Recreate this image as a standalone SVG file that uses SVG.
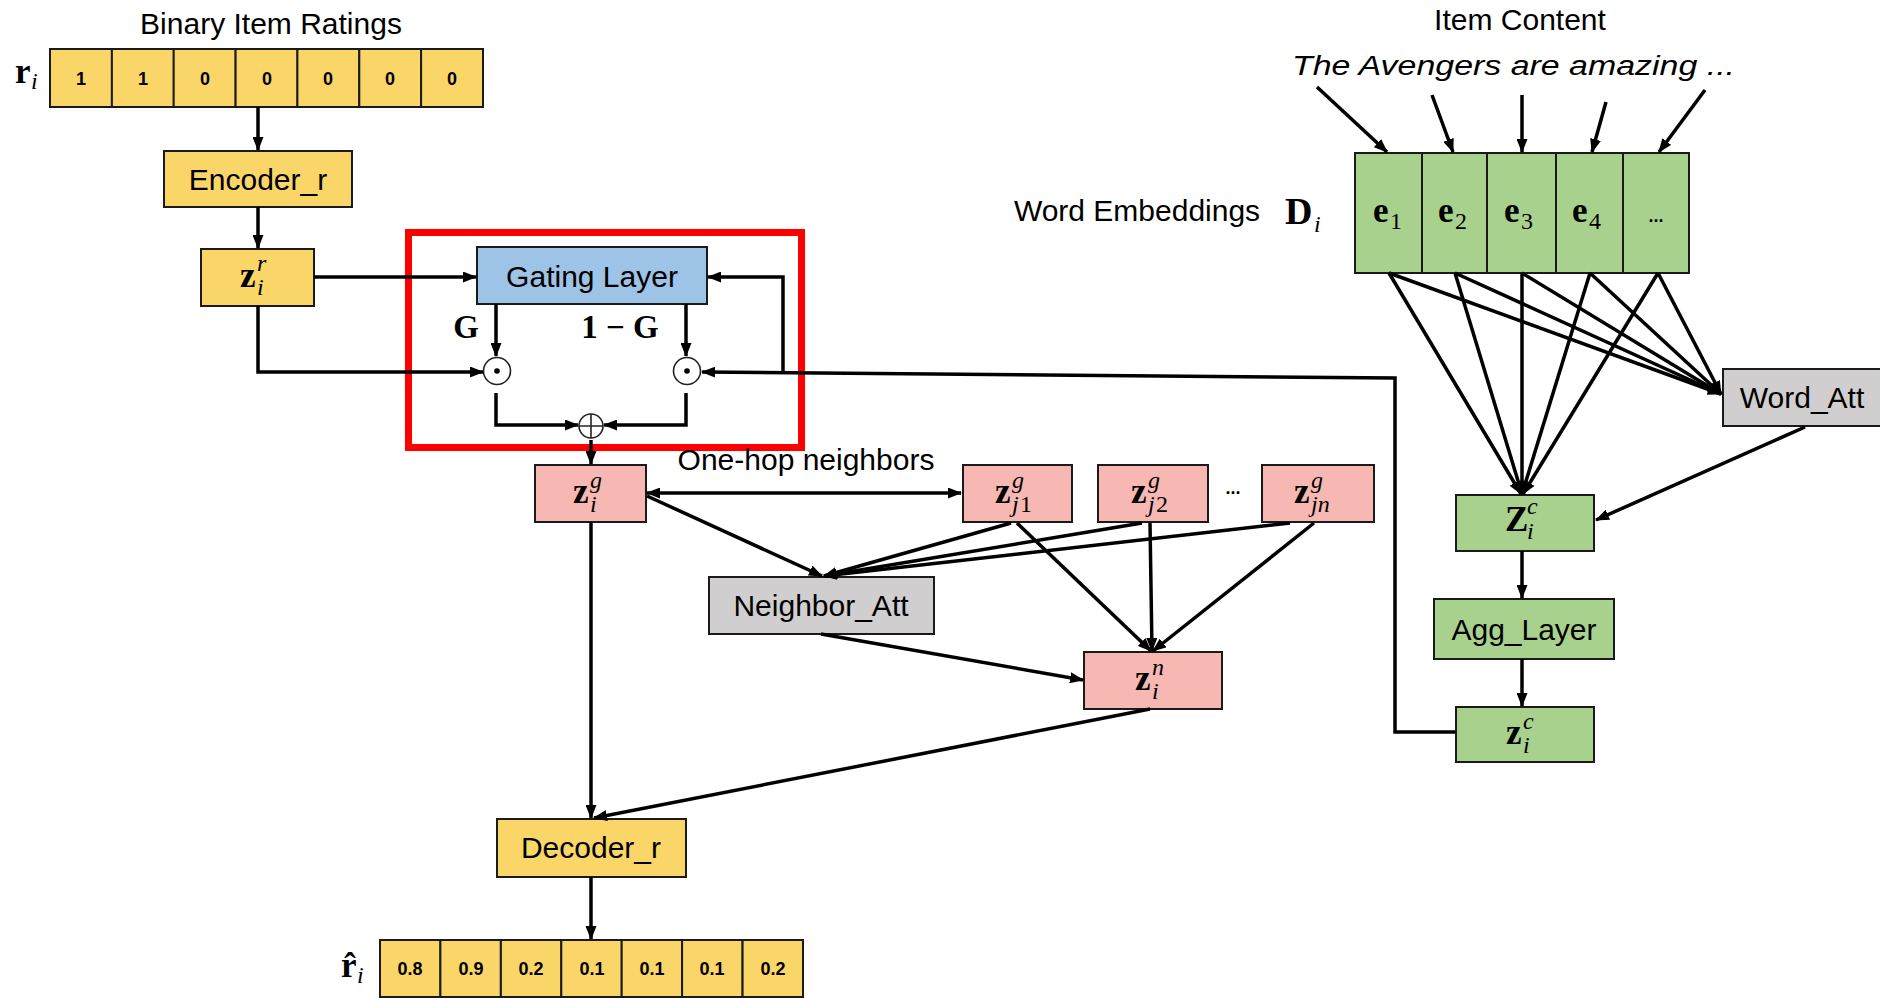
<svg xmlns="http://www.w3.org/2000/svg" width="1880" height="998" viewBox="0 0 1880 998">
  <defs>
    <marker id="arr" viewBox="0 0 14 11" markerWidth="14" markerHeight="11" refX="13" refY="5.5" orient="auto-start-reverse" markerUnits="userSpaceOnUse">
      <path d="M0,0 L14,5.5 L0,11 z" fill="#000"/>
    </marker>
    <style>
      .box { stroke: #1a1a1a; stroke-width: 2; }
      .yel { fill: #FAD668; }
      .pink { fill: #F7B8B3; }
      .green { fill: #A9D18E; }
      .gray { fill: #D0CECE; }
      .blue { fill: #9DC3E6; }
      .lbl { font-family: "Liberation Sans", Arial, sans-serif; font-size: 30px; fill: #000; text-anchor: middle; }
      .num { font-family: "Liberation Sans", Arial, sans-serif; font-size: 18px; font-weight: bold; fill: #000; text-anchor: middle; }
      .bz { font-family: "Liberation Serif", "Times New Roman", serif; font-size: 35px; font-weight: bold; fill: #000; }
      .mi { font-family: "Liberation Serif", "Times New Roman", serif; font-size: 24px; font-style: italic; fill: #000; }
      .mr { font-family: "Liberation Serif", "Times New Roman", serif; font-size: 24px; fill: #000; }
      .mg { font-family: "Liberation Serif", "Times New Roman", serif; font-size: 33px; font-weight: bold; fill: #000; text-anchor: middle; }
      .arrow { fill: none; stroke: #000; stroke-width: 3.5; marker-end: url(#arr); }
    </style>
  </defs>
  <rect width="1880" height="998" fill="#fff"/>

  <!-- input ratings vector -->
  <g id="ratings-in">
    <text class="lbl" x="271" y="34">Binary Item Ratings</text>
    <text class="bz" x="15" y="83">r</text><text class="mi" x="31" y="89">i</text>
    <g class="box yel">
      <rect x="50" y="49" width="61.9" height="58"/>
      <rect x="111.9" y="49" width="61.9" height="58"/>
      <rect x="173.7" y="49" width="61.9" height="58"/>
      <rect x="235.6" y="49" width="61.9" height="58"/>
      <rect x="297.4" y="49" width="61.9" height="58"/>
      <rect x="359.3" y="49" width="61.9" height="58"/>
      <rect x="421.1" y="49" width="61.9" height="58"/>
    </g>
    <text class="num" x="81" y="85">1</text>
    <text class="num" x="143" y="85">1</text>
    <text class="num" x="205" y="85">0</text>
    <text class="num" x="267" y="85">0</text>
    <text class="num" x="328" y="85">0</text>
    <text class="num" x="390" y="85">0</text>
    <text class="num" x="452" y="85">0</text>
  </g>

  <g id="encoder">
    <rect class="box yel" x="164" y="151" width="188" height="56"/>
    <text class="lbl" x="258" y="190">Encoder_r</text>
  </g>

  <g id="z-r">
    <rect class="box yel" x="201" y="249" width="113" height="57"/>
    <text class="bz" x="240" y="287">z</text>
    <text class="mi" x="257" y="271">r</text>
    <text class="mi" x="257" y="295">i</text>
  </g>

  <!-- gating block -->
  <g id="gating-frame">
    <rect x="408.5" y="232.5" width="393" height="215" fill="none" stroke="#FF0000" stroke-width="7"/>
  </g>
  <g id="gating">
    <rect class="box blue" x="477" y="247" width="230" height="57"/>
    <text class="lbl" x="592" y="287">Gating Layer</text>
  </g>
  <g id="gate-labels">
    <text class="mg" x="466" y="338">G</text>
    <text class="mg" x="620" y="338">1 − G</text>
  </g>
  <g id="odot-1">
    <circle cx="497" cy="371" r="13.5" fill="#fff" stroke="#222" stroke-width="1.6"/>
    <circle cx="497" cy="371" r="2.8" fill="#000"/>
  </g>
  <g id="odot-2">
    <circle cx="687" cy="371" r="13.5" fill="#fff" stroke="#222" stroke-width="1.6"/>
    <circle cx="687" cy="371" r="2.8" fill="#000"/>
  </g>
  <g id="oplus">
    <circle cx="591" cy="426" r="12" fill="#fff" stroke="#222" stroke-width="1.6"/>
    <path d="M579,426 H603 M591,414 V438" stroke="#222" stroke-width="1.6"/>
  </g>

  <!-- graph part -->
  <g id="z-g">
    <rect class="box pink" x="535" y="465" width="111" height="57"/>
    <text class="bz" x="573" y="503">z</text>
    <text class="mi" x="590" y="488">g</text>
    <text class="mi" x="590" y="512">i</text>
  </g>
  <text class="lbl" x="806" y="470">One-hop neighbors</text>
  <g id="z-j1">
    <rect class="box pink" x="963" y="465" width="109" height="57"/>
    <text class="bz" x="995" y="503">z</text>
    <text class="mi" x="1012" y="488">g</text>
    <text class="mi" x="1012" y="512">j</text><text class="mr" x="1020" y="512">1</text>
  </g>
  <g id="z-j2">
    <rect class="box pink" x="1098" y="465" width="110" height="57"/>
    <text class="bz" x="1131" y="503">z</text>
    <text class="mi" x="1148" y="488">g</text>
    <text class="mi" x="1148" y="512">j</text><text class="mr" x="1156" y="512">2</text>
  </g>
  <text class="num" x="1233" y="494" font-weight="normal" font-size="20">...</text>
  <g id="z-jn">
    <rect class="box pink" x="1262" y="465" width="112" height="57"/>
    <text class="bz" x="1294" y="503">z</text>
    <text class="mi" x="1311" y="488">g</text>
    <text class="mi" x="1311" y="512">jn</text>
  </g>
  <g id="neighbor-att">
    <rect class="box gray" x="709" y="577" width="225" height="57"/>
    <text class="lbl" x="821" y="616">Neighbor_Att</text>
  </g>
  <g id="z-n">
    <rect class="box pink" x="1084" y="652" width="138" height="57"/>
    <text class="bz" x="1135" y="690">z</text>
    <text class="mi" x="1152" y="675">n</text>
    <text class="mi" x="1152" y="699">i</text>
  </g>

  <g id="decoder">
    <rect class="box yel" x="497" y="819" width="189" height="58"/>
    <text class="lbl" x="591" y="858">Decoder_r</text>
  </g>

  <g id="ratings-out">
    <text class="bz" x="341" y="977">r̂</text><text class="mi" x="357" y="983">i</text>
    <g class="box yel">
      <rect x="380" y="940" width="60.4" height="57"/>
      <rect x="440.4" y="940" width="60.4" height="57"/>
      <rect x="500.9" y="940" width="60.4" height="57"/>
      <rect x="561.3" y="940" width="60.4" height="57"/>
      <rect x="621.7" y="940" width="60.4" height="57"/>
      <rect x="682.1" y="940" width="60.4" height="57"/>
      <rect x="742.6" y="940" width="60.4" height="57"/>
    </g>
    <text class="num" x="410" y="975">0.8</text>
    <text class="num" x="471" y="975">0.9</text>
    <text class="num" x="531" y="975">0.2</text>
    <text class="num" x="592" y="975">0.1</text>
    <text class="num" x="652" y="975">0.1</text>
    <text class="num" x="712" y="975">0.1</text>
    <text class="num" x="773" y="975">0.2</text>
  </g>

  <!-- item content side -->
  <g id="item-content">
    <text class="lbl" x="1520" y="30">Item Content</text>
    <text x="1292" y="75" font-family="'Liberation Sans', Arial, sans-serif" font-size="27" font-style="italic" textLength="443" lengthAdjust="spacingAndGlyphs">The Avengers are amazing ...</text>
  </g>
  <g id="word-embeddings">
    <text class="lbl" x="1137" y="221">Word Embeddings</text>
    <text x="1285" y="224" font-family="'Liberation Serif', serif" font-size="38" font-weight="bold">D</text>
    <text class="mi" x="1314" y="232">i</text>
    <g class="box green">
      <rect x="1355" y="153" width="67" height="120"/>
      <rect x="1422" y="153" width="65" height="120"/>
      <rect x="1487" y="153" width="69" height="120"/>
      <rect x="1556" y="153" width="67" height="120"/>
      <rect x="1623" y="153" width="66" height="120"/>
    </g>
    <text class="bz" x="1373" y="222" font-size="37">e</text><text class="mr" x="1390" y="229">1</text>
    <text class="bz" x="1438" y="222" font-size="37">e</text><text class="mr" x="1455" y="229">2</text>
    <text class="bz" x="1504" y="222" font-size="37">e</text><text class="mr" x="1521" y="229">3</text>
    <text class="bz" x="1572" y="222" font-size="37">e</text><text class="mr" x="1589" y="229">4</text>
    <text class="num" x="1656" y="222" font-size="24">...</text>
  </g>
  <g id="word-att">
    <rect class="box gray" x="1723" y="369" width="162" height="57"/>
    <text class="lbl" x="1802" y="408">Word_Att</text>
  </g>
  <g id="Z-c">
    <rect class="box green" x="1456" y="495" width="138" height="56"/>
    <text class="bz" x="1505" y="531">Z</text>
    <text class="mi" x="1527" y="514">c</text>
    <text class="mi" x="1527" y="539">i</text>
  </g>
  <g id="agg-layer">
    <rect class="box green" x="1434" y="599" width="180" height="60"/>
    <text class="lbl" x="1524" y="640">Agg_Layer</text>
  </g>
  <g id="z-c">
    <rect class="box green" x="1456" y="707" width="138" height="55"/>
    <text class="bz" x="1506" y="744">z</text>
    <text class="mi" x="1523" y="729">c</text>
    <text class="mi" x="1523" y="753">i</text>
  </g>

  <!-- connectors -->
  <g id="connectors">
    <path class="arrow" d="M258,107 V150"/>
    <path class="arrow" d="M258,207 V248"/>
    <path class="arrow" d="M314,277 H476"/>
    <path class="arrow" d="M258,306 V372 H483"/>
    <path class="arrow" d="M496,304 V356"/>
    <path class="arrow" d="M686,304 V356"/>
    <path class="arrow" d="M783,372 V277 H708"/>
    <path class="arrow" d="M1455,732 H1395 V378 L702,372"/>
    <path class="arrow" d="M496,393 V425 H578"/>
    <path class="arrow" d="M686,393 V425 H604"/>
    <path class="arrow" d="M591,440 V464"/>
    <path class="arrow" d="M647,493 H961" marker-start="url(#arr)"/>
    <path class="arrow" d="M647,496 L822,576"/>
    <path class="arrow" d="M1011,523 L824,576"/>
    <path class="arrow" d="M1142,523 L824,576"/>
    <path class="arrow" d="M1290,523 L824,576"/>
    <path class="arrow" d="M1017,523 L1151,651"/>
    <path class="arrow" d="M1150,523 L1152,651"/>
    <path class="arrow" d="M1314,523 L1153,651"/>
    <path class="arrow" d="M821,634 L1083,680"/>
    <path class="arrow" d="M591,522 V818"/>
    <path class="arrow" d="M1150,709 L594,818"/>
    <path class="arrow" d="M591,877 V939"/>
    <path class="arrow" d="M1317,87 L1387,152"/>
    <path class="arrow" d="M1432,95 L1453,152"/>
    <path class="arrow" d="M1522,95 V152"/>
    <path class="arrow" d="M1606,102 L1592,152"/>
    <path class="arrow" d="M1705,90 L1659,152"/>
    <path class="arrow" d="M1389,273 L1521,494"/>
    <path class="arrow" d="M1455,273 L1522,494"/>
    <path class="arrow" d="M1522,273 V494"/>
    <path class="arrow" d="M1590,273 L1522,494"/>
    <path class="arrow" d="M1658,273 L1523,494"/>
    <path class="arrow" d="M1389,273 L1721,394"/>
    <path class="arrow" d="M1455,273 L1721,394"/>
    <path class="arrow" d="M1522,273 L1721,394"/>
    <path class="arrow" d="M1590,273 L1721,394"/>
    <path class="arrow" d="M1658,273 L1721,394"/>
    <path class="arrow" d="M1805,427 L1596,520"/>
    <path class="arrow" d="M1522,551 V598"/>
    <path class="arrow" d="M1522,659 V706"/>
  </g>
</svg>
